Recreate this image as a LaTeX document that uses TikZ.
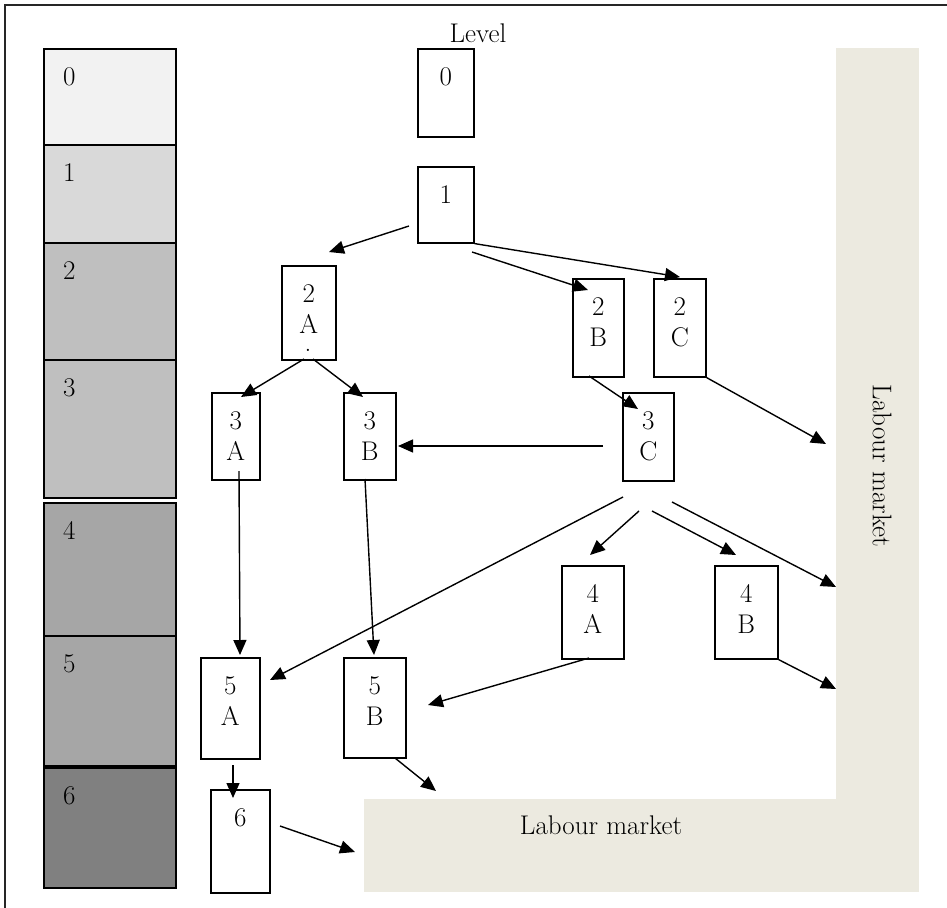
\documentclass[tikz,border=0pt]{standalone}
\usetikzlibrary{arrows.meta}
\definecolor{market}{HTML}{ECEAE0}

\begin{document}
\begin{tikzpicture}[x=1pt,y=-1pt,
	box/.style={draw,line width=1.6pt,fill=white,inner sep=0pt,anchor=north west},
	num/.style={anchor=north,inner sep=0pt,align=center,font=\fontsize{27}{31}\selectfont},
	arr/.style={line width=1.4pt,-{Triangle[length=15pt,width=13pt]}}]
		\useasboundingbox (0,0) rectangle (947,907);
		\draw [line width=1.6pt,black!85] (5,912) -- (5,5) -- (952,5);
		% levels
		\foreach \lv/\ya/\yb/\c [evaluate=\yb as \h using \yb-\ya] in
		{0/48/144/5,1/144/242/15,2/242/359/25,3/359/497/25,4/502/635/35,5/635/765/35,6/767/887/50}
		{\node [box,fill=black!\c,minimum width=132pt,minimum height=\h pt] (lv\lv) at (43,\ya) {};
		\node [num,anchor=north west] at ([xshift=20pt,yshift=-19pt]lv\lv.north west) {\lv};}
		% labour market
		\node [fill=market,inner sep=0pt,anchor=north west,minimum width=83pt,minimum height=844pt] (lmv) at (836,48) {};
		\node [fill=market,inner sep=0pt,anchor=north west,minimum width=472pt,minimum height=93pt] (lmh) at (364,799) {};
		\node [num,anchor=center,rotate=-90] (lmvt) at (882,466) {Labour market};
		\node [num,anchor=center] (lmht) at (601,825) {Labour market};
		\node [num,anchor=center] (level) at (478,33) {Level};
		% boxes
		\foreach \n/\x/\y/\w/\hh/\t in
		{0/417/48/56/88/0, 1/417/166/56/76/1, 2A/281/265/54/94/{2\\A},
		2B/572/278/51/98/{2\\B}, 2C/653/278/52/98/{2\\C},
		3A/211/392/48/87/{3\\A}, 3B/343/392/52/87/{3\\B}, 3C/622/392/51/88/{3\\C},
		4A/561/565/62/93/{4\\A}, 4B/714/565/63/93/{4\\B},
		5A/200/657/59/101/{5\\A}, 5B/343/657/62/100/{5\\B}, 6/210/789/59/103/6}
		{\node [box,minimum width=\w pt,minimum height=\hh pt] (b\n) at (\x,\y) {};
		\node [num] at ([yshift=-19pt]b\n.north) {\t};}
		\node [inner sep=0pt,anchor=base,font=\fontsize{27}{31}\selectfont] (dot) at (308,351) {.};
		% arrow ends
		\foreach \p/\x/\y in
		{s1/409/226, t1/329/252, t2/680/277, s3/472/252, t3/588/290,
		s4/304/359, t4/241/397, s5/313/359, t5/363/397, s6/603/446, t6/398/446,
		s7/589/376, t7/638/409, t8/826/444, s9/239/471, t9/240/655,
		s10/365/479, t10/374/655, s11/623/497, t11/270/680, s12/639/511, t12/590/555,
		s13/652/511, t13/736/555, s14/672/502, t14/836/587, s15/589/658, t15/428/705,
		t16/836/689, s17/233/765, t17/233/798, s18/395/758, t18/436/791,
		s19/280/826, t19/355/852}
		\coordinate (\p) at (\x,\y);
		\foreach \a/\b in
		{s1/t1, b1.south east/t2, s3/t3, s4/t4, s5/t5, s6/t6, s7/t7, b2C.south east/t8,
		s9/t9, s10/t10, s11/t11, s12/t12, s13/t13, s14/t14, s15/t15, b4B.south east/t16,
		s17/t17, s18/t18, s19/t19}
		\draw [arr] (\a) -- (\b);
\end{tikzpicture}
\end{document}
